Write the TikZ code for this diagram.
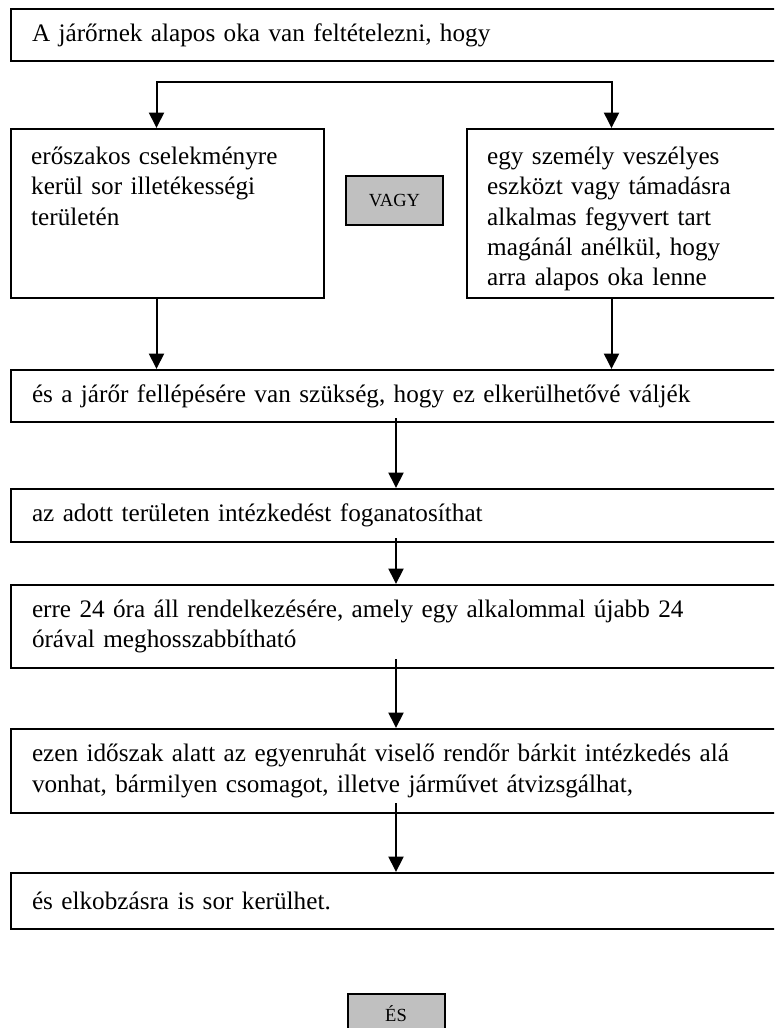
\documentclass[tikz,border=0pt]{standalone}
\usepackage{fontspec}
\setmainfont{Liberation Serif}
\usetikzlibrary{arrows.meta, positioning}
\definecolor{tagfill}{HTML}{C0C0C0}

\begin{document}
\begin{tikzpicture}[
    x=1pt, y=-1pt,
    widebox/.style={draw, line width=2pt, text width=728pt, inner xsep=21pt, inner ysep=0pt,
                    align=left, font=\fontsize{25.2}{30.2}\selectfont},
    sidebox/.style={draw, line width=2pt, minimum width=313pt, minimum height=169pt, anchor=north west},
    sidetext/.style={anchor=north west, inner sep=0pt, text width=274pt, align=left,
                     font=\fontsize{25.2}{30.2}\selectfont},
    tagbox/.style={draw, line width=2pt, fill=tagfill, minimum width=97pt, minimum height=49pt,
                   font=\fontsize{18.5}{22}\selectfont},
    conn/.style={-{Triangle[length=15.5pt, width=15pt]}, line width=2pt},
    fork/.style={{Triangle[length=15.5pt, width=15pt]}-{Triangle[length=15.5pt, width=15pt]}, line width=2pt}
]
    \path[use as bounding box, clip] (0,0) rectangle (774,1028);

    \node[widebox, minimum height=52pt, anchor=north west] (premise) at (10,8)
        {A járőrnek alapos oka van feltételezni, hogy};

    \node[sidebox] (violence) at (10,128) {};
    \node[sidetext] at ([xshift=21pt, yshift=-19pt]violence.north west)
        {erőszakos cselekményre\\kerül sor illetékességi\\területén};

    \node[sidebox] (weapon) at (466,128) {};
    \begin{scope}
        \clip (weapon.north west) rectangle ([yshift=9pt]weapon.south east);
        \node[sidetext] at ([xshift=21pt, yshift=-19pt]weapon.north west)
            {egy személy veszélyes\\eszközt vagy támadásra\\alkalmas fegyvert tart\\magánál anélkül, hogy\\arra alapos oka lenne};
    \end{scope}

    \node[tagbox] (orbox) at (394.5,200.5) {VAGY};

    \node[widebox, minimum height=52pt, anchor=north west] (need) at (10,369)
        {és a járőr fellépésére van szükség, hogy ez elkerülhetővé váljék};
    \node[widebox, minimum height=53pt, below=65pt of need] (measure)
        {az adott területen intézkedést foganatosíthat};
    \node[widebox, minimum height=83pt, below=41pt of measure] (period)
        {erre 24 óra áll rendelkezésére, amely egy alkalommal újabb 24\\órával meghosszabbítható};
    \node[widebox, minimum height=84pt, below=59pt of period] (powers)
        {ezen időszak alatt az egyenruhát viselő rendőr bárkit intézkedés alá\\vonhat, bármilyen csomagot, illetve járművet átvizsgálhat,};
    \node[widebox, minimum height=56pt, below=58pt of powers] (seize)
        {és elkobzásra is sor kerülhet.};
    \node[tagbox, minimum height=40pt, below=63pt of seize] (andbox) {ÉS};

    \draw[fork] ([xshift=-11pt]violence.north) -- ++(0,-46) -| ([xshift=-12pt]weapon.north);
    \draw[conn] ([xshift=-11pt]violence.south) -- ([xshift=-11pt]violence.south |- need.north);
    \draw[conn] ([xshift=-12pt]weapon.south) -- ([xshift=-12pt]weapon.south |- need.north);
    \draw[conn] ([yshift=5pt]need.south) -- (measure.north);
    \draw[conn] ([yshift=5pt]measure.south) -- (period.north);
    \draw[conn] ([yshift=10pt]period.south) -- (powers.north);
    \draw[conn] ([yshift=11pt]powers.south) -- (seize.north);
\end{tikzpicture}
\end{document}
